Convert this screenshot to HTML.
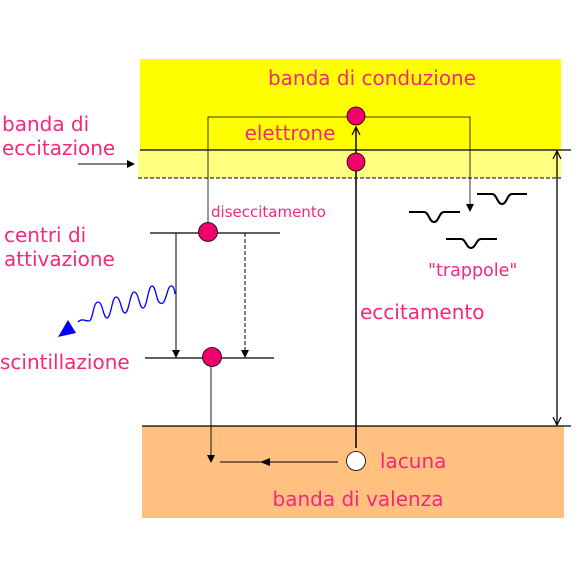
<!DOCTYPE html>
<html><head><meta charset="utf-8"><style>
html,body{margin:0;padding:0;background:#fff;}
svg{display:block;font-family:"DejaVu Sans","Liberation Sans",sans-serif;}
.t{fill:#f5287a;}
</style></head><body>
<svg width="587" height="562" viewBox="0 0 587 562">
<defs>
<marker id="ah" markerWidth="8" markerHeight="8" refX="7" refY="4" orient="auto" markerUnits="userSpaceOnUse"><path d="M0,0 L8,4 L0,8 z" fill="#000"/></marker>
<marker id="ao" markerWidth="10" markerHeight="10" refX="9" refY="5" orient="auto-start-reverse" markerUnits="userSpaceOnUse"><path d="M1,1 L9,5 L1,9" fill="none" stroke="#000" stroke-width="1.2"/></marker>
</defs>
<rect x="140" y="59" width="421" height="91" fill="#ffff00"/>
<rect x="138" y="150" width="423" height="28" fill="#ffff80"/>
<rect x="142" y="426" width="422" height="92" fill="#ffc080"/>
<line x1="140" y1="150" x2="571" y2="150" stroke="#000" stroke-width="1.3"/>
<line x1="138" y1="178" x2="561" y2="178" stroke="#000" stroke-width="1" stroke-dasharray="4,2"/>
<line x1="142" y1="426" x2="571" y2="426" stroke="#000" stroke-width="1.3"/>
<text class="t" x="372" y="85" font-size="20" text-anchor="middle">banda di conduzione</text>
<text class="t" x="290" y="140" font-size="20" text-anchor="middle">elettrone</text>
<text class="t" x="2" y="131" font-size="20">banda di</text>
<text class="t" x="2" y="155" font-size="20">eccitazione</text>
<line x1="78" y1="164" x2="134" y2="164" stroke="#000" stroke-width="1" marker-end="url(#ah)"/>
<text class="t" x="4" y="242" font-size="20">centri di</text>
<text class="t" x="4" y="266" font-size="20">attivazione</text>
<text class="t" x="0" y="369" font-size="20">scintillazione</text>
<text class="t" x="211" y="217" font-size="15">diseccitamento</text>
<text class="t" x="360" y="319" font-size="20">eccitamento</text>
<text class="t" x="428" y="276" font-size="17.5">"trappole"</text>
<text class="t" x="380" y="468" font-size="20">lacuna</text>
<text class="t" x="358" y="506" font-size="20" text-anchor="middle">banda di valenza</text>
<line x1="557" y1="425" x2="557" y2="151" stroke="#000" stroke-width="1.3" marker-end="url(#ao)" marker-start="url(#ao)"/>
<line x1="356" y1="448" x2="356" y2="127" stroke="#000" stroke-width="1.5" marker-end="url(#ao)"/>
<polyline points="208,224 208,117 470,117 470,210" fill="none" stroke="#000" stroke-width="0.8"/>
<path d="M466,204 L470,212 L474,204 z" fill="#000"/>
<path d="M409,212 H424 C429,212 429,222 434,222 C439,222 439,212 444,212 H460" fill="none" stroke="#000" stroke-width="2"/>
<path d="M477,194 H492 C497,194 497,204 502,204 C507,204 507,194 512,194 H527" fill="none" stroke="#000" stroke-width="2"/>
<path d="M446,239 H461 C466,239 466,248 471,248 C476,248 476,239 481,239 H497" fill="none" stroke="#000" stroke-width="2"/>
<line x1="150" y1="233" x2="280" y2="233" stroke="#000" stroke-width="1.2"/>
<line x1="145" y1="358" x2="274" y2="358" stroke="#000" stroke-width="1.2"/>
<line x1="176" y1="233" x2="176" y2="357" stroke="#000" stroke-width="1" marker-end="url(#ah)"/>
<line x1="245" y1="233" x2="245" y2="357" stroke="#000" stroke-width="1" stroke-dasharray="4,2" marker-end="url(#ah)"/>
<line x1="211" y1="367" x2="211" y2="462" stroke="#000" stroke-width="0.9" marker-end="url(#ah)"/>
<line x1="338" y1="462" x2="220" y2="462" stroke="#000" stroke-width="0.9"/>
<path d="M260,462 L270,458 L270,466 z" fill="#000"/>
<path d="M175,294 C174,284 170,284 168,290 C165,300 164,305 160,303 C156,301 156,286 152,286 C148,286 147,308 143,308 C139,308 139,292 134,292 C130,292 129,313 125,313 C121,313 121,297 116,297 C112,297 111,318 107,318 C103,318 103,302 98,302 C93,302 93,321 89,321 C85,321 82,318 78,322" fill="none" stroke="#0000ff" stroke-width="1.3"/>
<path d="M58,337 L68,320 L76,333 z" fill="#0000ff"/>
<circle cx="356" cy="116" r="9" fill="#f0006c" stroke="#000" stroke-width="0.8"/>
<circle cx="356" cy="162" r="9" fill="#f0006c" stroke="#000" stroke-width="0.8"/>
<circle cx="208" cy="232" r="9.5" fill="#f0006c" stroke="#000" stroke-width="0.8"/>
<circle cx="212" cy="357" r="9.5" fill="#f0006c" stroke="#000" stroke-width="0.8"/>
<circle cx="356" cy="461" r="9.5" fill="#fff" stroke="#000" stroke-width="0.8"/>
</svg>
</body></html>
